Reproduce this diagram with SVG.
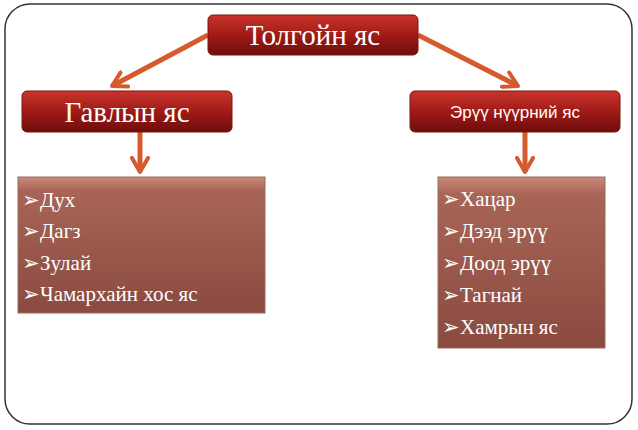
<svg xmlns="http://www.w3.org/2000/svg" width="638" height="430" viewBox="0 0 638 430">
<defs>
<linearGradient id="red" x1="0" y1="0" x2="0" y2="1"><stop offset="0" stop-color="#c8352c"/><stop offset="0.5" stop-color="#a01a17"/><stop offset="1" stop-color="#6e0d0c"/></linearGradient>
<linearGradient id="brown" x1="0" y1="0" x2="0" y2="1"><stop offset="0" stop-color="#c98a7a"/><stop offset="0.1" stop-color="#a86557"/><stop offset="1" stop-color="#8a4a3f"/></linearGradient>
<marker id="ah" viewBox="0 0 10 10" refX="8" refY="5" markerWidth="4" markerHeight="4" orient="auto"><path d="M1,1 L8,5 L1,9" fill="none" stroke="#d65a2e" stroke-width="2" stroke-linecap="round" stroke-linejoin="round"/></marker>
</defs>
<style>
.hdr{fill:url(#red);stroke:#7a1410;stroke-width:1}
.box{fill:url(#brown);stroke:#9a6a60;stroke-width:1}
.ht{font-family:"Liberation Serif",serif;fill:#fff;text-anchor:middle}
.lt{font-family:"Liberation Serif",serif;fill:#fff;font-size:21px}
.c{stroke:#d65a2e;stroke-width:5;fill:none;marker-end:url(#ah)}
</style>
<rect x="0" y="0" width="638" height="430" fill="#fff"/>
<rect x="5" y="4" width="627" height="420" rx="25" fill="#fff" stroke="#333" stroke-width="1.5"/>
<g id="connectors">
<line class="c" x1="208" y1="35" x2="112" y2="86"/>
<line class="c" x1="418" y1="35" x2="518" y2="86"/>
<line class="c" x1="140" y1="132" x2="140" y2="172"/>
<line class="c" x1="525" y1="132" x2="525" y2="172"/>
</g>
<g id="n-top"><rect class="hdr" x="208" y="15" width="210" height="40" rx="5"/><text class="ht" x="313" y="45" font-size="29">Толгойн яс</text></g>
<g id="n-gavl"><rect class="hdr" x="22" y="91" width="210" height="41" rx="5"/><text class="ht" x="127" y="122" font-size="29">Гавлын яс</text></g>
<g id="n-eruu"><rect class="hdr" x="410" y="91" width="210" height="41" rx="5"/><text class="ht" x="515" y="118" font-size="17" font-family="Liberation Sans,sans-serif" style="font-family:'Liberation Sans',sans-serif">Эрүү нүүрний  яс</text></g>
<g id="n-left"><rect class="box" x="18" y="177" width="247" height="136"/>
<text class="lt" x="22" y="207">➢Дух</text><text class="lt" x="22" y="238">➢Дагз</text><text class="lt" x="22" y="270">➢Зулай</text><text class="lt" x="22" y="301">➢Чамархайн хос яс</text></g>
<g id="n-right"><rect class="box" x="438" y="177" width="167" height="171"/>
<text class="lt" x="442" y="206">➢Хацар</text><text class="lt" x="442" y="238">➢Дээд эрүү</text><text class="lt" x="442" y="270">➢Доод эрүү</text><text class="lt" x="442" y="302">➢Тагнай</text><text class="lt" x="442" y="334">➢Хамрын яс</text></g>
</svg>
